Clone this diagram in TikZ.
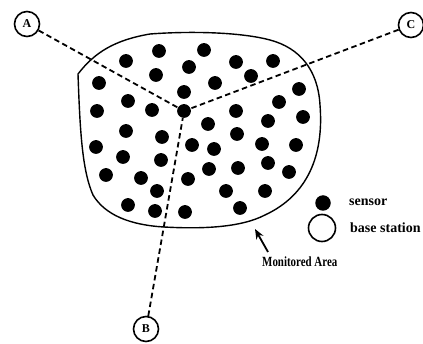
\documentclass[tikz,border=0pt]{standalone}
\usepackage{fontspec}
\setmainfont{Liberation Serif}
\usetikzlibrary{arrows.meta}
\begin{document}
\begin{tikzpicture}[x=1pt,y=-1pt,
  sensor/.style={circle,fill=black,inner sep=0pt,minimum size=13.8pt},
  bstation/.style={circle,draw,line width=1.6pt,inner sep=0pt,minimum size=25pt,
    font=\bfseries\fontsize{12}{12}\selectfont},
  dashline/.style={line width=1.8pt,dash pattern=on 5.5pt off 3.5pt},
  legtext/.style={anchor=west,inner sep=0pt,font=\bfseries\fontsize{14}{14}\selectfont}]
\useasboundingbox (0,0) rectangle (423,344);
% monitored area
\draw[line width=1.4pt] (78,74) .. controls (95,52) and (115,40) .. (150,34)
  .. controls (190,31) and (240,32) .. (270,40)
  .. controls (300,48) and (318,70) .. (320,105)
  .. controls (324,155) and (308,195) .. (265,215)
  .. controls (240,228) and (200,229) .. (164,227)
  .. controls (130,225) and (105,215) .. (93,195)
  .. controls (82,170) and (80,130) .. (78,74) -- cycle;
% sensors
\foreach \x/\y [count=\i] in {126/61,159/51,204/50,189/67,156/75,99/83,128/101,152/110,
  97/111,184/92,184/111,126/131,162/137,96/147,123/157,161/160,192/145,208/124,214/149,
  236/62,273/61,251/76,215/83,299/89,279/102,236/111,303/117,268/121,237/134,262/144,
  296/145,268/163,238/168,289/172,106/175,141/178,157/191,188/179,209/169,226/191,
  265/191,128/205,155/211,185/212,240/208}
  \node[sensor] (s\i) at (\x,\y) {};
% base stations
\node[bstation] (A) at (27,24) {A};
\node[bstation] (B) at (146,329) {B};
\node[bstation] (C) at (411,25) {C};
\draw[dashline] (A) -- (s11);
\draw[dashline] (B) -- (s11);
\draw[dashline] (C) -- (s11);
% legend
\node[sensor,minimum size=15.5pt] (ls) at (323,203) {};
\node[circle,draw,line width=1.6pt,minimum size=27pt,inner sep=0pt] (lb) at (322,228) {};
\node[legtext] (lst) at (349,202) {sensor};
\node[legtext] (lbt) at (350,228) {base station};
% monitored area label
\node[anchor=west,inner sep=0pt,font=\bfseries\fontsize{14}{14}\selectfont] (ma) at (262,262)
  {\scalebox{0.78}[1]{Monitored Area}};
\coordinate (tip) at (255,229);
\coordinate (tail) at (268,252);
\draw[line width=1.8pt,-{Stealth[length=10pt,width=8pt]}] (tail) -- (tip);
\end{tikzpicture}
\end{document}
